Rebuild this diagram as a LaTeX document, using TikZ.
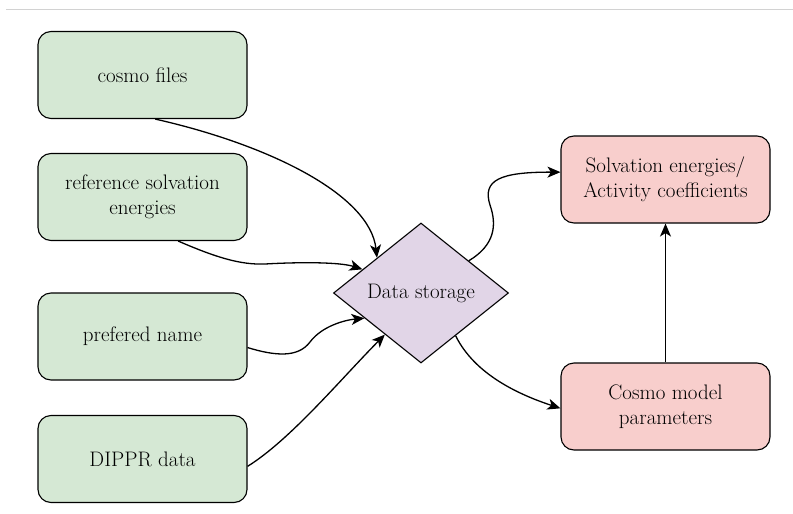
\documentclass[tikz,border=0pt]{standalone}
\usepackage{fontspec}
\usepackage{tikz}
\usetikzlibrary{arrows.meta, shapes.geometric}

\begin{document}
\begin{tikzpicture}[x=1pt,y=1pt,yscale=-1,xscale=1,
  inbox/.style={draw, line width=1.1pt, rounded corners=13pt, fill={rgb, 255:red, 213; green, 232; blue, 212}, minimum width=209pt, minimum height=87pt, align=center, font=\fontsize{21}{25}\selectfont},
  outbox/.style={inbox, fill={rgb, 255:red, 248; green, 206; blue, 204}},
  storebox/.style={draw, line width=1.1pt, shape=diamond, fill={rgb, 255:red, 225; green, 213; blue, 231}, minimum width=175pt, minimum height=140pt, inner sep=0pt, font=\fontsize{21}{25}\selectfont},
  flow/.style={line width=1.3pt, -{Stealth[length=13pt,width=11pt,inset=3.5pt]}}]
\useasboundingbox (0,0) rectangle (793,514);

%Straight Lines (page edge)
\draw [color={rgb, 255:red, 210; green, 210; blue, 210}, line width=1pt] (6,9) -- (793,9) ;

%Shape: Rectangle (inputs)
\node [inbox] (cosmo) at (142.5,75) {cosmo files};
\node [inbox] (refe) at (142.5,197) {reference solvation\\energies};
\node [inbox] (pref) at (142.5,336.5) {prefered name};
\node [inbox] (dippr) at (142.5,459) {DIPPR data};

%Shape: Diamond
\node [storebox] (store) at (421,293) {Data storage};

%Shape: Rectangle (outputs)
\node [outbox] (solv) at (665.5,179.5) {Solvation energies/\\Activity coefficients};
\node [outbox] (model) at (665.5,406.5) {Cosmo model\\parameters};

%Curve Lines
\draw [flow] (cosmo.-74) .. controls (270,145) and (370,195) .. (store.north west) ;
\draw [flow] (refe.-51) .. controls (215,257) and (240,265) .. (265,264) .. controls (300,262) and (340,262) .. (store.158) ;
\draw [flow] (pref.-6) .. controls (275,356) and (298,358) .. (310,342) .. controls (322,326) and (345,320) .. (store.204) ;
\draw [flow] (dippr.-4) .. controls (290,440) and (340,380) .. (store.229) ;
\draw [flow] (store.34) .. controls (495,245) and (497,225) .. (490,205) .. controls (482,180) and (500,172) .. (solv.176) ;
\draw [flow] (store.-51) .. controls (475,375) and (520,395) .. (model.181) ;

%Straight Lines
\draw [flow] (model.north) -- (solv.south) ;
\end{tikzpicture}
\end{document}
